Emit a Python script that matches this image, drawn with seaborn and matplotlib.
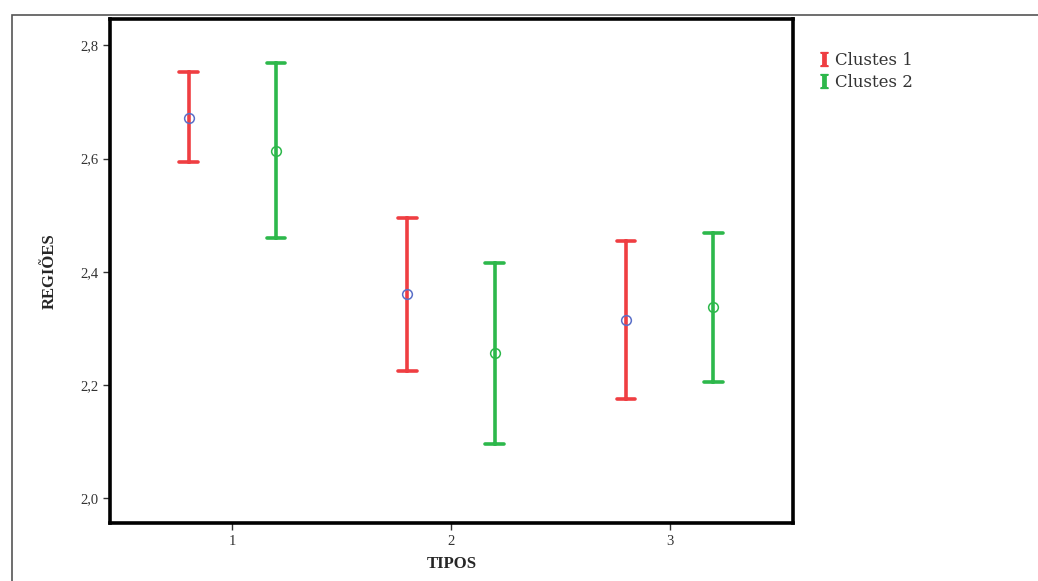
import numpy as np
import pandas as pd
import matplotlib.pyplot as plt
import seaborn as sns
from matplotlib.lines import Line2D
from matplotlib.patches import Rectangle
from matplotlib.colors import to_rgb

# valores (media e limites do intervalo)
tipos = ['1', '2', '3']
clusters = ['Clustes 1', 'Clustes 2']
media_c1 = [2.672, 2.360, 2.314]
inf_c1 = [2.594, 2.225, 2.175]
sup_c1 = [2.752, 2.495, 2.454]
media_c2 = [2.614, 2.256, 2.338]
inf_c2 = [2.459, 2.096, 2.206]
sup_c2 = [2.769, 2.416, 2.469]
yticks = [2.0, 2.2, 2.4, 2.6, 2.8]
ytick_labels = ['2,0', '2,2', '2,4', '2,6', '2,8']

#%%
linhas = []
for cl, med, lo, hi in [(clusters[0], media_c1, inf_c1, sup_c1),
                        (clusters[1], media_c2, inf_c2, sup_c2)]:
    for t, m, a, b in zip(tipos, med, lo, hi):
        for v in (a, m, b):
            linhas.append({'TIPOS': t, 'cluster': cl, 'REGIOES': v})
df = pd.DataFrame(linhas)

#%%
sns.set_style('white')
plt.rcParams['font.family'] = ['Liberation Serif', 'DejaVu Serif']
plt.rcParams['mathtext.fontset'] = 'stix'

vermelho = '#ef3e42'
verde = '#2db84b'
azul = '#5a6fc8'

fig = plt.figure(figsize=(10.38, 5.81), dpi=100)
ax = fig.add_axes([0.106, 0.0998, 0.658, 0.867])

sns.pointplot(data=df, x='TIPOS', y='REGIOES', hue='cluster', order=tipos,
              hue_order=clusters, palette=[vermelho, verde],
              estimator='median', errorbar=lambda x: (x.min(), x.max()),
              dodge=0.4, linestyle='none', markers='o', capsize=0.085,
              err_kws={'linewidth': 2.6}, markersize=7,
              markerfacecolor='none', markeredgewidth=1.1, legend=False, ax=ax)

# marcador da media do cluster 1 em azul
for ln in ax.lines:
    if ln.get_marker() == 'o' and np.allclose(to_rgb(ln.get_color()), to_rgb(vermelho)):
        ln.set_markeredgecolor(azul)
        ln.set_zorder(5)

ax.set_xlim(-0.56, 2.565)
ax.set_ylim(1.956, 2.846)
ax.set_yticks(yticks)
ax.set_yticklabels(ytick_labels)
ax.tick_params(axis='both', direction='out', length=5, width=1, color='#333333',
               labelsize=10.5, labelcolor='#333333', left=True, bottom=True)
for s in ax.spines.values():
    s.set_linewidth(2.6)
    s.set_color('black')

ax.set_xlabel('TIPOS', fontsize=12, fontweight='bold', labelpad=6)
ax.set_ylabel('REGIÕES', fontsize=12, fontweight='bold', labelpad=16)

handles = [Line2D([], [], marker=r'$\mathbf{I}$', color=vermelho, linestyle='none', markersize=10),
           Line2D([], [], marker=r'$\mathbf{I}$', color=verde, linestyle='none', markersize=10)]
fig.legend(handles, clusters, loc='upper left', bbox_to_anchor=(0.771, 0.937),
           frameon=False, handletextpad=0.2, labelspacing=0.3,
           handlelength=1.0, labelcolor='#333333',
           prop={'family': 'DejaVu Serif', 'size': 12})

# moldura cinza de fundo
fig.add_artist(Rectangle((12 / 1038, -0.1), 1.2, 1 - 15 / 581 + 0.1, transform=fig.transFigure,
                         fill=False, edgecolor='#555555', linewidth=1.2))

plt.savefig('out.png', dpi=100)
